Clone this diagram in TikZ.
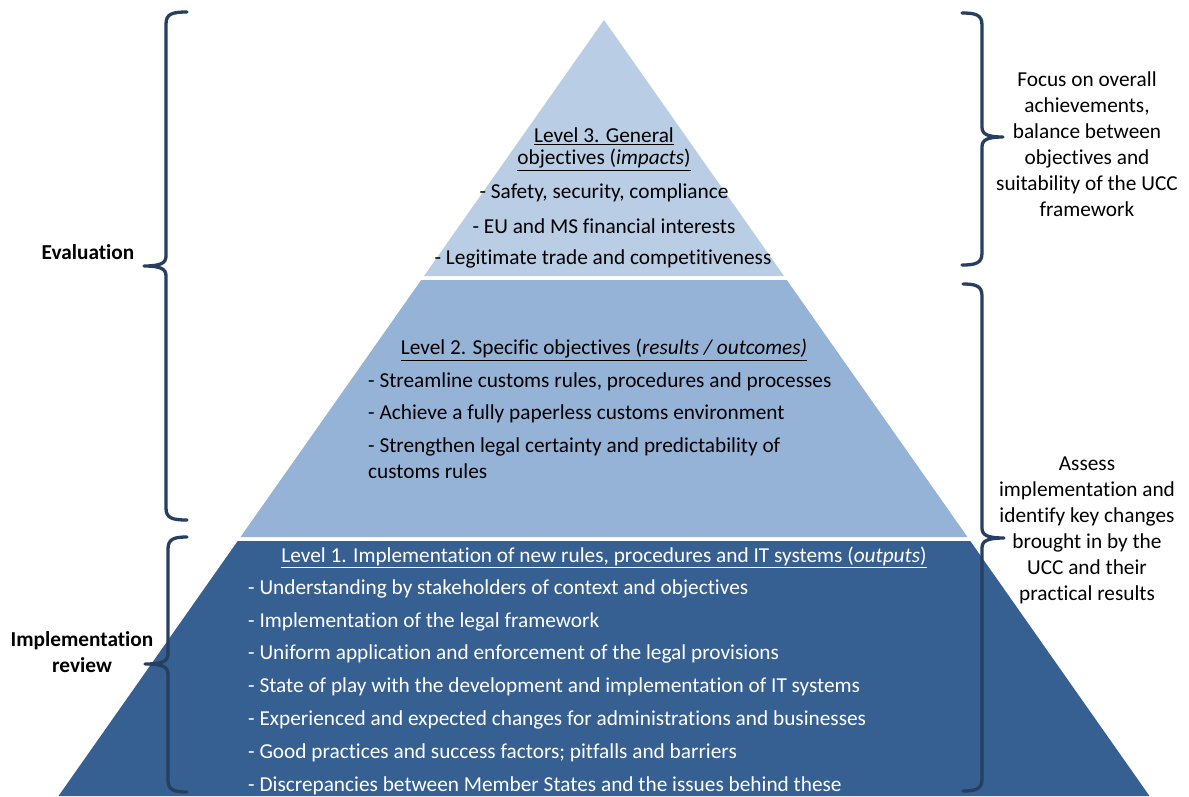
\documentclass[tikz,border=0pt]{standalone}
\usepackage{fontspec}
\setmainfont{Carlito}[Ligatures={NoCommon}]
\definecolor{lvlthree}{HTML}{B9CDE5}
\definecolor{lvltwo}{HTML}{95B3D7}
\definecolor{lvlone}{HTML}{376092}
\definecolor{bracec}{HTML}{263F5E}
\newcommand{\mybraceleft}[6]{% #1 end x, #2 stem x, #3 top, #4 mid, #5 bottom, #6 tip x
 \draw[brace] (#1,#3) .. controls ({#2+6},#3) and (#2,{#3+2}) .. (#2,{#3+12}) -- (#2,{#4-10}) .. controls (#2,{#4-3}) and ({#2-5},#4) .. (#6,#4) .. controls ({#2-5},#4) and (#2,{#4+3}) .. (#2,{#4+10}) -- (#2,{#5-12}) .. controls (#2,{#5-2}) and ({#2+6},#5) .. (#1,#5);}
\newcommand{\mybraceright}[6]{%
 \draw[brace] (#1,#3) .. controls ({#2-6},#3) and (#2,{#3+2}) .. (#2,{#3+12}) -- (#2,{#4-10}) .. controls (#2,{#4-3}) and ({#2+5},#4) .. (#6,#4) .. controls ({#2+5},#4) and (#2,{#4+3}) .. (#2,{#4+10}) -- (#2,{#5-12}) .. controls (#2,{#5-2}) and ({#2-6},#5) .. (#1,#5);}
\begin{document}
\begin{tikzpicture}[x=1pt,y=-1pt,
  txt/.style={font=\fontsize{21.3}{26}\selectfont, inner sep=0pt},
  item/.style={txt, anchor=west},
  wtxt/.style={txt, text=white},
  witem/.style={item, text=white},
  side/.style={txt, align=center},
  brace/.style={draw=bracec, line width=3.3pt, line cap=round, line join=round}]
\useasboundingbox (0,0) rectangle (1189,796);
% pyramid levels
\fill[lvlthree] (604,20) -- (784,276) -- (424,276) -- cycle;
\fill[lvltwo] (421.2,280) -- (786.8,280) -- (967.5,537) -- (240.5,537) -- cycle;
\fill[lvlone] (237.7,541) -- (970.3,541) -- (1149.5,796) -- (58.5,796) -- cycle;
% Level 3
\node[txt] (l3a) at (604,136) {\underline{Level 3. General}};
\node[txt] (l3b) at (604,160) {\underline{objectives (\textit{impacts})}};
\node[txt] (l3c) at (604,193) {- Safety, security, compliance};
\node[txt] (l3d) at (604,226) {- EU and MS financial interests};
\node[txt] (l3e) at (603,259) {- Legitimate trade and competitiveness};
% Level 2
\node[txt] (l2t) at (604,350) {\underline{Level 2. Specific objectives (\textit{results / outcomes)}}};
\node[item] (l2a) at (368,382) {- Streamline customs rules, procedures and processes};
\node[item] (l2b) at (368,414) {- Achieve a fully paperless customs environment};
\node[item] (l2c) at (368,447) {- Strengthen legal certainty and predictability of};
\node[item] (l2d) at (368,471) {customs rules};
% Level 1
\node[wtxt] (l1t) at (604,557) {\underline{Level 1. Implementation of new rules, procedures and IT systems (\textit{outputs})}};
\node[witem] (l1a) at (248,589) {- Understanding by stakeholders of context and objectives};
\node[witem] (l1b) at (248,622) {- Implementation of the legal framework};
\node[witem] (l1c) at (248,654) {- Uniform application and enforcement of the legal provisions};
\node[witem] (l1d) at (248,687) {- State of play with the development and implementation of IT systems};
\node[witem] (l1e) at (248,720) {- Experienced and expected changes for administrations and businesses};
\node[witem] (l1f) at (248,753) {- Good practices and success factors; pitfalls and barriers};
\node[witem] (l1g) at (248,786) {- Discrepancies between Member States and the issues behind these};
% braces
\mybraceleft{187}{166}{12}{266}{520}{144}
\mybraceleft{187}{168}{537}{664}{792}{145}
\mybraceright{962}{982}{13}{137}{265}{1003}
\mybraceright{963}{982}{284}{538}{791}{1004}
% side labels
\node[side, font=\fontsize{21.3}{26}\selectfont\bfseries] (eval) at (88,252) {Evaluation};
\node[side, font=\fontsize{21.3}{26}\selectfont\bfseries] (impl) at (82,652) {Implementation\\review};
\node[side] (focus) at (1087,144) {Focus on overall\\achievements,\\balance between\\objectives and\\suitability of the UCC\\framework};
\node[side] (assess) at (1087,530) {Assess\\implementation and\\identify key changes\\brought in by the\\UCC and their\\practical results};
\end{tikzpicture}
\end{document}
